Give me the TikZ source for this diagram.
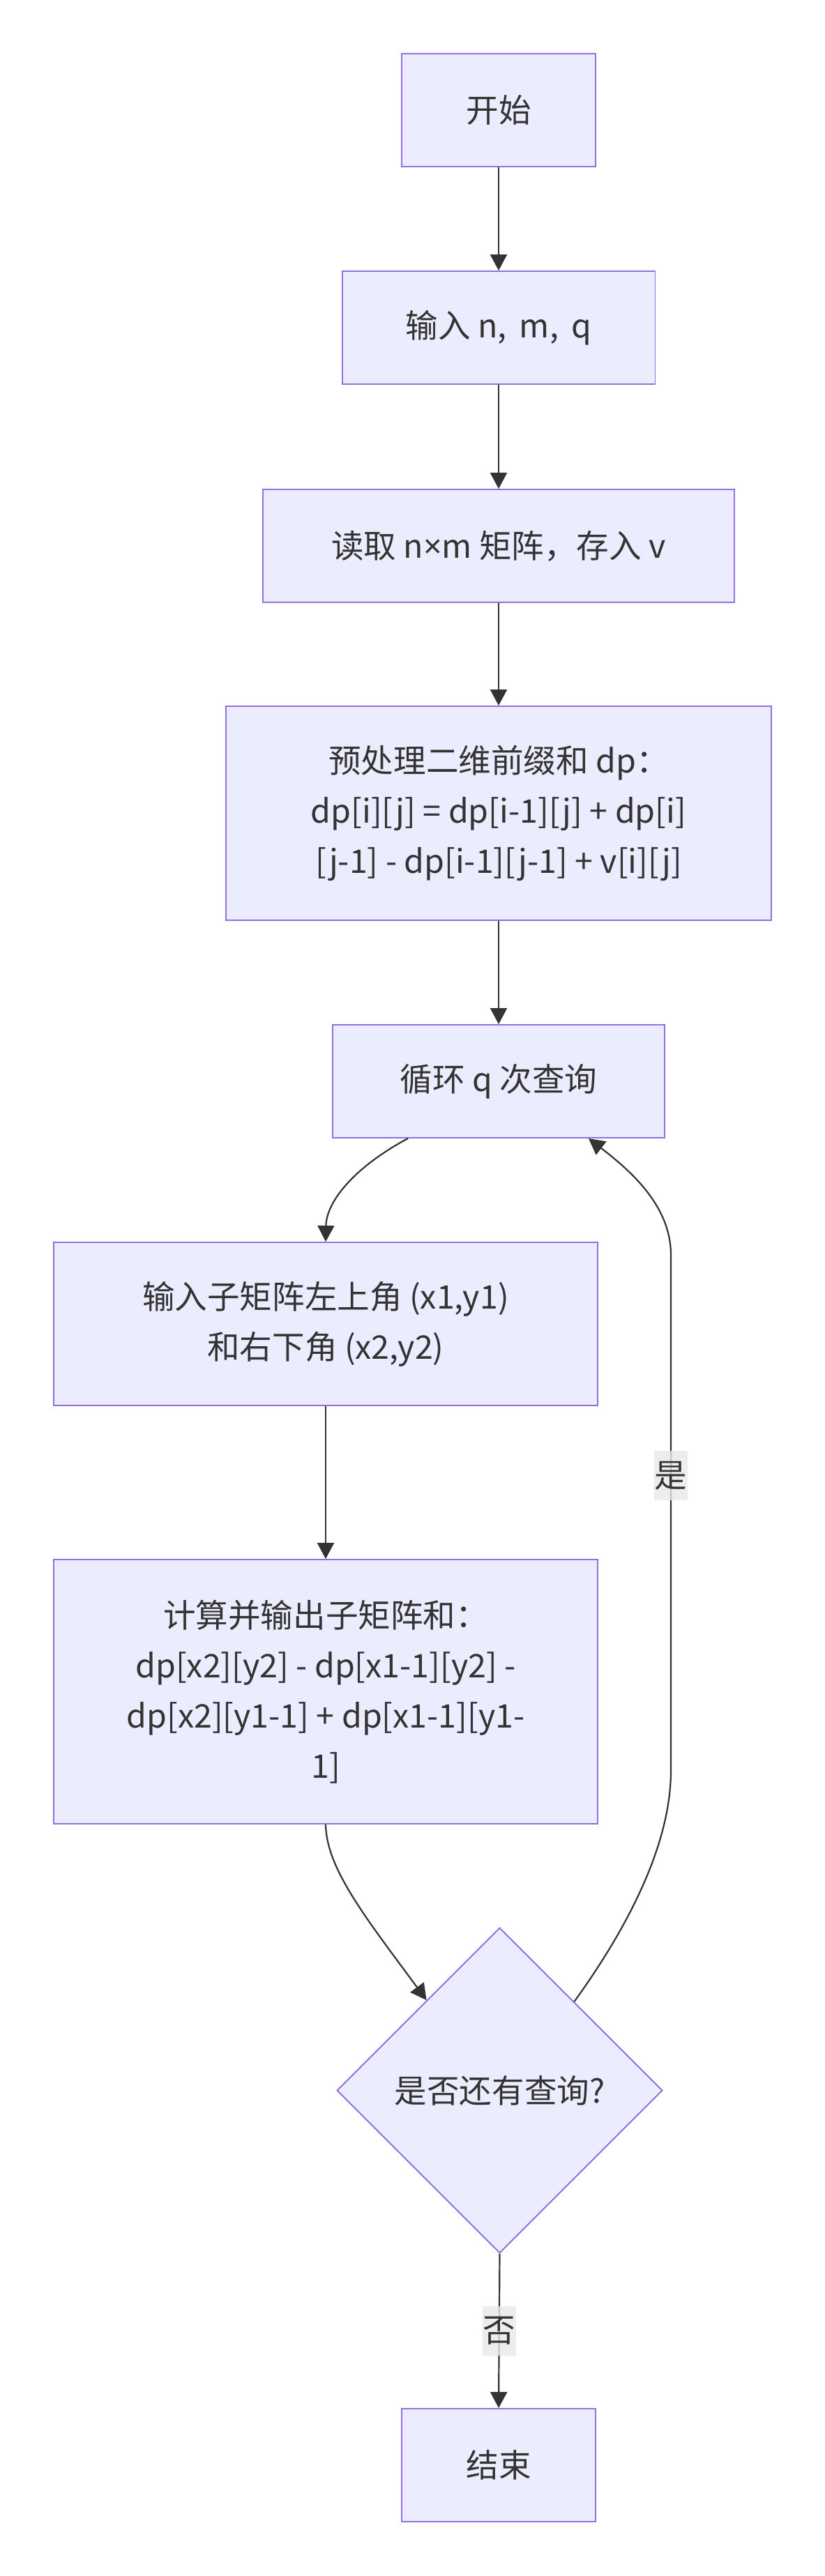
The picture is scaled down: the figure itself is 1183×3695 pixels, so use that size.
\documentclass[tikz,border=0pt]{standalone}
\usepackage{fontspec}
\setmainfont{Noto Sans CJK SC}
\newfontfamily\latinfont{Noto Sans}
\usetikzlibrary{shapes.geometric, arrows.meta}

\definecolor{boxfill}{HTML}{ECECFF}
\definecolor{boxline}{HTML}{9370DB}
\definecolor{edgeline}{HTML}{333333}
\definecolor{labelbg}{HTML}{E8E8E8}

\begin{document}
\begin{tikzpicture}[x=0.02cm, y=-0.02cm,
    proc/.style={draw=boxline, fill=boxfill, line width=1.1pt, text=edgeline,
        align=center, inner sep=0pt, minimum height=3.24cm,
        font=\fontsize{26.5}{41}\selectfont},
    decision/.style={proc, diamond, aspect=1, minimum width=9.34cm, minimum height=9.34cm},
    flow/.style={draw=edgeline, line width=1.25pt, -{Triangle[width=0.48cm, length=0.46cm]}},
    tag/.style={fill=labelbg, fill opacity=0.8, text opacity=1, text=edgeline,
        inner sep=0pt, minimum width=0.96cm, minimum height=1.42cm,
        font=\fontsize{26.5}{41}\selectfont}
]
    \useasboundingbox (0,0) rectangle (1183,3695);

    % ================= 预处理部分 =================
    \node[proc, minimum width=5.56cm] (start) at (715, 158) {开始};
    \node[proc, minimum width=8.98cm] (input) at (715, 470) {输入 n,\, m,\, q};
    \node[proc, minimum width=13.52cm] (readmat) at (715, 783) {读取 n{\latinfont ×}m 矩阵，存入 v};
    \node[proc, minimum width=15.64cm, minimum height=6.14cm] (prefix) at (715, 1166.5)
        {预处理二维前缀和 dp：\\dp[i][j] = dp[i-1][j] + dp[i]\\{[}j-1] - dp[i-1][j-1] + v[i][j]};

    \draw[flow] (start) -- (input);
    \draw[flow] (input) -- (readmat);
    \draw[flow] (readmat) -- (prefix);

    % ================= 查询循环 =================
    \node[proc, minimum width=9.52cm] (loop) at (715, 1551) {循环 q 次查询};
    \node[proc, minimum width=15.6cm, minimum height=4.68cm] (query) at (467, 1899)
        {输入子矩阵左上角 (x1,y1)\\和右下角 (x2,y2)};
    \node[proc, minimum width=15.6cm, minimum height=7.58cm] (calc) at (467, 2426.5)
        {计算并输出子矩阵和：\\dp[x2][y2] - dp[x1-1][y2] -\\dp[x2][y1-1] + dp[x1-1][y1-\\1]};
    \node[decision] (check) at (716.5, 2998.5) {是否还有查询?};
    \node[proc, minimum width=5.56cm] (finish) at (715, 3536) {结束};

    % 回边的竖直段端点
    \coordinate (backbot) at (962, 2540);
    \coordinate (backtop) at (962, 1800);

    \draw[flow] (prefix) -- (loop);
    \draw[flow] ([xshift=-2.6cm]loop.south) .. controls (515, 1670) and (468, 1720) .. (query.north);
    \draw[flow] (query) -- (calc);
    \draw[flow] (calc.south) .. controls (468, 2680) and (524, 2750) .. (check.129);

    % 是: 回到循环
    \draw[flow] (check.50) .. controls (895, 2772) and (962, 2650) .. (backbot)
        -- node[tag, pos=0.572] {是} (backtop)
        .. controls (962, 1730) and (905, 1680) .. ([xshift=-2.2cm]loop.south east);

    % 否: 结束
    \draw[flow] (check.south) -- node[tag] {否} (finish.north);

\end{tikzpicture}
\end{document}
